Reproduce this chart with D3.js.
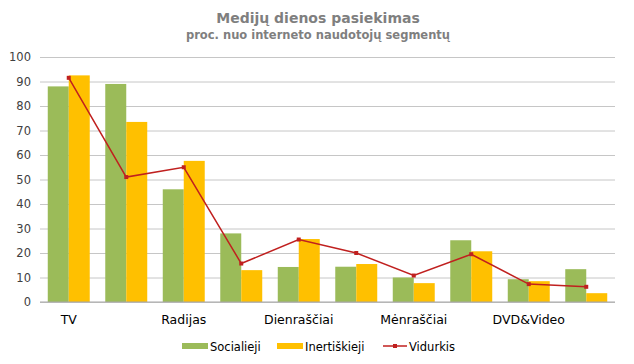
<!DOCTYPE html>
<html>
<head>
<meta charset="utf-8">
<script src="https://cdn.jsdelivr.net/npm/d3@7"></script>
<style>
  body { margin: 0; background: #fff; }
  text { font-family: "DejaVu Sans", Verdana, sans-serif; }
</style>
</head>
<body>
<svg id="chart" width="634" height="364"></svg>
<script>
// data
const tickLabels = ["TV", "", "Radijas", "", "Dienraščiai", "", "Mėnraščiai", "", "DVD&Video", ""];
const socialieji = [88, 89, 46, 28, 14.3, 14.4, 10, 25.2, 9.3, 13.4];
const inertiskieji = [92.5, 73.5, 57.6, 13, 25.7, 15.5, 7.7, 20.7, 8.5, 3.6];
const vidurkis = [91.5, 51, 55, 15.7, 25.5, 20, 10.8, 19.5, 7.3, 6.2];
const yTicks = [0, 10, 20, 30, 40, 50, 60, 70, 80, 90, 100];

const colGreen = "#9bbb59",
    colYellow = "#ffc000",
    colRed = "#c0201f";

const svg = d3.select("#chart");

const x = d3.scaleBand()
    .domain(d3.range(tickLabels.length))
    .range([40, 615])
    .paddingInner(0.27)
    .paddingOuter(0.135);

const y = d3.scaleLinear()
    .domain([0, 100])
    .range([302, 57]);

// title
svg.append("text")
    .attr("x", 318).attr("y", 23)
    .attr("text-anchor", "middle")
    .attr("font-size", 14).attr("font-weight", "bold")
    .attr("fill", "#7f7f7f")
    .text("Medijų dienos pasiekimas");
svg.append("text")
    .attr("x", 318).attr("y", 38.5)
    .attr("text-anchor", "middle")
    .attr("font-size", 11.5).attr("font-weight", "bold")
    .attr("fill", "#7f7f7f")
    .text("proc. nuo interneto naudotojų segmentų");

// grid + y labels
const yAxis = d3.axisLeft(y)
    .tickValues(yTicks)
    .tickSize(-575)
    .tickPadding(9);

const gy = svg.append("g")
    .attr("transform", "translate(40,0)")
    .call(yAxis);
gy.select(".domain").remove();
gy.selectAll(".tick line").attr("stroke", "#c6c6c6");
gy.selectAll(".tick text")
    .attr("font-size", 11.5)
    .attr("fill", "#404040")
    .attr("font-family", "DejaVu Sans, sans-serif");

// bars
const bw = x.bandwidth() / 2;
svg.append("g").selectAll("rect")
    .data(socialieji)
    .join("rect")
    .attr("x", (d, i) => x(i))
    .attr("y", d => y(d))
    .attr("width", bw)
    .attr("height", d => y(0) - y(d))
    .attr("fill", colGreen);

svg.append("g").selectAll("rect")
    .data(inertiskieji)
    .join("rect")
    .attr("x", (d, i) => x(i) + bw)
    .attr("y", d => y(d))
    .attr("width", bw)
    .attr("height", d => y(0) - y(d))
    .attr("fill", colYellow);

// axis line at zero
svg.append("line")
    .attr("x1", 40).attr("x2", 615)
    .attr("y1", y(0)).attr("y2", y(0))
    .attr("stroke", "#a6a6a6");

// average line
const line = d3.line()
    .x((d, i) => x(i) + x.bandwidth() / 2)
    .y(d => y(d));

svg.append("path")
    .datum(vidurkis)
    .attr("d", line)
    .attr("fill", "none")
    .attr("stroke", colRed)
    .attr("stroke-width", 1.5);

svg.append("g").selectAll("rect")
    .data(vidurkis)
    .join("rect")
    .attr("x", (d, i) => x(i) + x.bandwidth() / 2 - 2)
    .attr("y", d => y(d) - 2)
    .attr("width", 4).attr("height", 4)
    .attr("fill", colRed);

// category labels
const xAxis = d3.axisBottom(x)
    .tickSize(0)
    .tickPadding(13)
    .tickFormat(i => tickLabels[i]);

const gx = svg.append("g")
    .attr("transform", "translate(0," + y(0) + ")")
    .call(xAxis);
gx.select(".domain").remove();
gx.selectAll(".tick text")
    .attr("font-size", 12.5)
    .attr("fill", "#000")
    .attr("font-family", "DejaVu Sans, sans-serif");

// legend
const legend = svg.append("g").attr("transform", "translate(0,346)");
legend.append("rect").attr("x", 182).attr("y", -3).attr("width", 26).attr("height", 6).attr("fill", colGreen);
legend.append("text").attr("x", 210).attr("y", 4.5).attr("font-size", 11.5).attr("fill", "#000").text("Socialieji");
legend.append("rect").attr("x", 277).attr("y", -3).attr("width", 26).attr("height", 6).attr("fill", colYellow);
legend.append("text").attr("x", 305).attr("y", 4.5).attr("font-size", 11.5).attr("fill", "#000").text("Inertiškieji");
legend.append("line").attr("x1", 383).attr("x2", 407).attr("y1", 0).attr("y2", 0).attr("stroke", colRed).attr("stroke-width", 1.5);
legend.append("rect").attr("x", 393).attr("y", -2).attr("width", 4).attr("height", 4).attr("fill", colRed);
legend.append("text").attr("x", 409).attr("y", 4.5).attr("font-size", 11.5).attr("fill", "#000").text("Vidurkis");
</script>
</body>
</html>
